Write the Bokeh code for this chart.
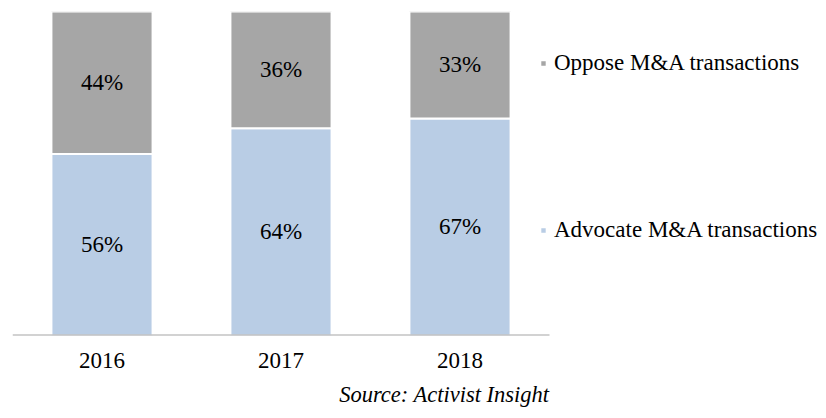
from bokeh.plotting import figure
from bokeh.models import Range1d, Legend, LegendItem, ColumnDataSource, LabelSet, Title, FixedTicker
from bokeh.embed import file_html
from bokeh.resources import INLINE

years = ["2016", "2017", "2018"]
advocate = [56, 64, 67]
oppose = [44, 36, 33]
series = ["Advocate M&A transactions", "Oppose M&A transactions"]
colors = ["#b9cde5", "#a6a6a6"]
source_note = "Source: Activist Insight"

FONT = "Liberation Serif"

xpos = [i + 0.5 for i in range(len(years))]
src = ColumnDataSource(dict(
    x=xpos,
    advocate=advocate,
    oppose=oppose,
    adv_mid=[a / 2 for a in advocate],
    opp_mid=[a + o / 2 for a, o in zip(advocate, oppose)],
    adv_lab=[f"{a}%" for a in advocate],
    opp_lab=[f"{o}%" for o in oppose],
))

W, H = 824, 415
LEFT, TOP, BOTTOM = 12, 11, 75
CAT_PX = 179.0
frame_w = W - LEFT

p = figure(x_range=Range1d(0, frame_w / CAT_PX), y_range=Range1d(0, 100),
           width=W, height=H, output_backend="svg", toolbar_location=None,
           min_border_left=LEFT, min_border_top=TOP, min_border_right=0,
           min_border_bottom=BOTTOM)

r = p.vbar_stack(["advocate", "oppose"], x="x", width=0.565, source=src,
                 color=colors, line_color="white", line_width=2)

# baseline (category axis line) spanning only the category area
p.line(x=[0, len(years)], y=[0, 0], line_color="#a6a6a6", line_width=2)

p.add_layout(LabelSet(x="x", y="adv_mid", text="adv_lab", source=src,
                      text_align="center", text_baseline="middle",
                      text_font=FONT, text_font_size="23px", text_color="black"))
p.add_layout(LabelSet(x="x", y="opp_mid", text="opp_lab", source=src,
                      text_align="center", text_baseline="middle",
                      text_font=FONT, text_font_size="23px", text_color="black"))

p.yaxis.visible = False
p.xgrid.visible = False
p.ygrid.visible = False
p.outline_line_color = None
p.xaxis.ticker = FixedTicker(ticks=xpos)
p.xaxis.major_label_overrides = {x: y for x, y in zip(xpos, years)}
p.xaxis.axis_line_color = None
p.xaxis.major_tick_line_color = None
p.xaxis.minor_tick_line_color = None
p.xaxis.major_label_text_font = FONT
p.xaxis.major_label_text_font_size = "23px"
p.xaxis.major_label_text_color = "black"
p.xaxis.major_label_standoff = 11

legend = Legend(items=[LegendItem(label=series[1], renderers=[r[1]]),
                       LegendItem(label=series[0], renderers=[r[0]])],
                location=(527, 92), orientation="vertical",
                label_text_font=FONT, label_text_font_size="23px", label_text_color="black",
                glyph_width=8, glyph_height=8, label_standoff=7, label_height=20,
                spacing=141, padding=0, margin=0,
                border_line_color=None, background_fill_alpha=0)
p.add_layout(legend)

p.add_layout(Title(text=source_note, align="right", text_font=FONT,
                   text_font_style="italic", text_font_size="22.5px",
                   text_color="black", offset=W - LEFT - 3 * CAT_PX, standoff=18), "below")

open("out.html", "w").write(file_html(p, INLINE))
